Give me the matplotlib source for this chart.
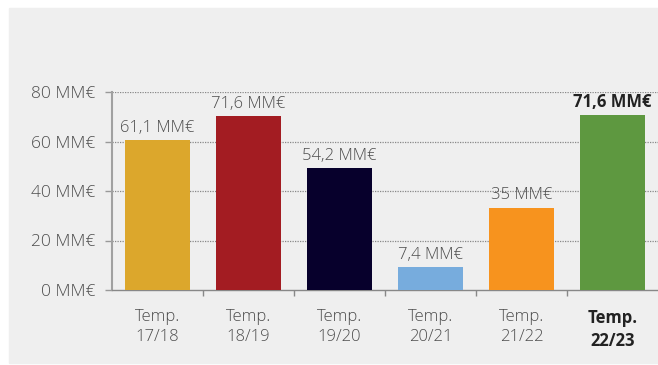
import matplotlib.pyplot as plt
from matplotlib.patches import Rectangle

# datos
temporadas = ['Temp.\n17/18', 'Temp.\n18/19', 'Temp.\n19/20', 'Temp.\n20/21', 'Temp.\n21/22', 'Temp.\n22/23']
alturas = [60.6, 70.4, 49.3, 9.4, 33.3, 70.8]  # altura dibujada de cada barra
etiquetas = ['61,1 MM€', '71,6 MM€', '54,2 MM€', '7,4 MM€', '35 MM€', '71,6 MM€']
colores = ['#dca72c', '#a31c22', '#07002c', '#77acdd', '#f7931e', '#5e9840']
y_ticks = [0, 20, 40, 60, 80]

plt.rcParams['font.family'] = ['Open Sans', 'DejaVu Sans']

fig = plt.figure(figsize=(6.58, 3.65), dpi=100)
fig.patches.append(Rectangle((9 / 658, 0.005), 1, 1 - 8 / 365 - 0.005,
                             transform=fig.transFigure, color='#efefef', zorder=-10))

ax = fig.add_axes([112 / 658, 1 - 290 / 365, 1 - 112 / 658, (290 - 92) / 365])
ax.set_facecolor('none')

x = range(len(temporadas))
ax.bar(x, alturas, width=0.71, color=colores, zorder=3)

for i, (h, txt) in enumerate(zip(alturas, etiquetas)):
    ultima = i == len(etiquetas) - 1
    ax.annotate(txt, (i, h), xytext=(0, 3), textcoords='offset points',
                ha='center', va='bottom', fontsize=12,
                color='#222222' if ultima else '#4d4d4d',
                fontweight='bold' if ultima else 'light', zorder=4)

ax.set_xlim(-0.5, len(temporadas) - 0.5)
ax.set_ylim(0, 80)
ax.set_yticks(y_ticks)
ax.set_yticklabels([f'{v} MM€' for v in y_ticks], fontsize=12.5, color='#4d4d4d', fontweight='light')
ax.set_xticks(list(x))
ax.set_xticklabels(temporadas, fontsize=12, color='#4d4d4d', fontweight='light', linespacing=1.3)
ax.get_xticklabels()[-1].set_fontweight('bold')
ax.get_xticklabels()[-1].set_color('#222222')
ax.set_xticks([i + 0.5 for i in range(len(temporadas) - 1)], minor=True)
ax.tick_params(axis='x', which='major', length=0, pad=14)
ax.tick_params(axis='x', which='minor', length=4, color='#888888', width=1)
ax.tick_params(axis='y', length=5, color='#999999', width=1, pad=7)

for v in y_ticks[1:]:
    ax.axhline(v, color='#888888', linestyle=(0, (1, 1)), linewidth=0.9, zorder=1)

for s in ['top', 'right']:
    ax.spines[s].set_visible(False)
ax.spines['left'].set_color('#a0a0a0')
ax.spines['left'].set_linewidth(1.5)
ax.spines['bottom'].set_color('#888888')
ax.spines['bottom'].set_linewidth(1)

fig.savefig('out.png', dpi=100)
